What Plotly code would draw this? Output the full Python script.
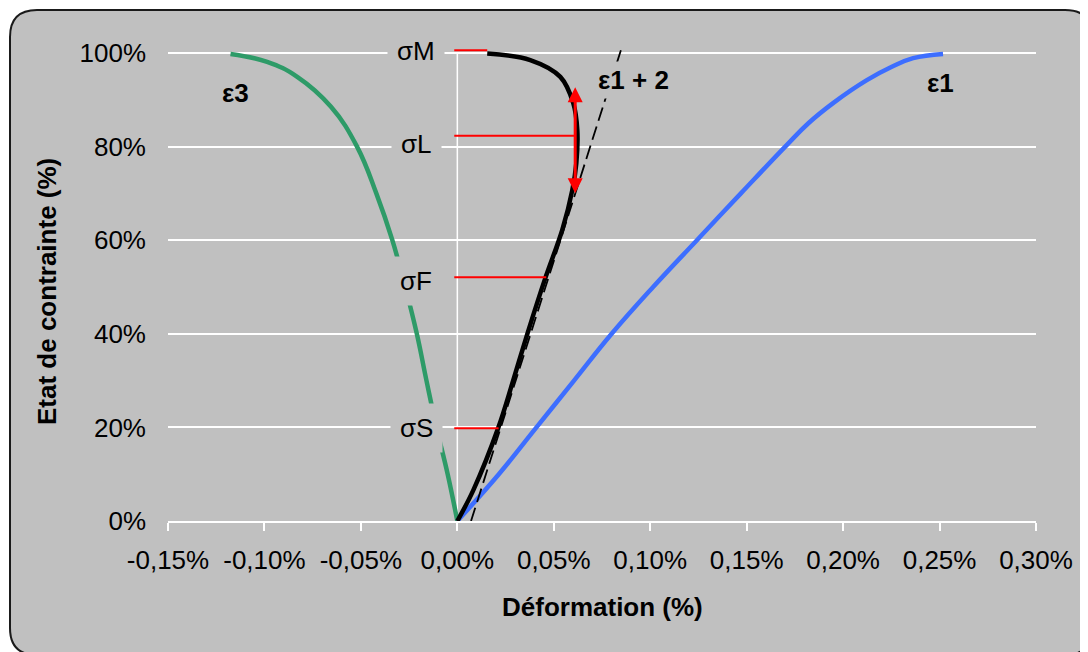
import plotly.graph_objects as go

# ---------------- data (strain in %, stress state in %) ----------------
eps3_x = [0, -0.0050, -0.0108, -0.0160, -0.0210, -0.0270, -0.0337, -0.0420, -0.0520,
          -0.0655, -0.0830, -0.0986, -0.1176]
eps3_y = [0, 10, 20, 30, 40, 50, 60, 70, 80, 88.5, 94.9, 98.1, 99.8]

eps1_x = [0, 0.0215, 0.0410, 0.0605, 0.0800, 0.1015, 0.1242, 0.1470, 0.1700, 0.1820,
          0.1948, 0.2123, 0.2250, 0.2363, 0.2518]
eps1_y = [0, 10, 20, 30, 40, 50, 60, 70, 80, 85, 89.3, 94.2, 97.0, 98.9, 99.8]

eps12_x = [0, 0.0083, 0.0212, 0.0290, 0.0363, 0.0456, 0.0544, 0.0596, 0.0617, 0.0622,
           0.0601, 0.0534, 0.0378, 0.0155]
eps12_y = [0, 6.6, 19.9, 30.1, 40.0, 51.9, 62.2, 70.7, 76.5, 83.5, 89.3, 94.9, 98.5, 99.9]

tangent_x = [0.0071, 0.0848]
tangent_y = [0, 100.6]

sigma_names = ["σM", "σL", "σF", "σS"]
sigma_levels = [100.6, 82.3, 52.1, 19.8]
sigma_ends = [0.0155, 0.0611, 0.0461, 0.0214]
sigma_start = -0.0016
sigma_label_y = [100.5, 80.6, 51.3, 19.9]
sigma_label_x = -0.0212

arrow_x = 0.0611
arrow_y = [69.7, 92.7]

curve_labels = ["ε3", "ε1", "ε1 + 2"]
curve_label_x = [-0.1151, 0.2504, 0.0913]
curve_label_y = [91.4, 93.5, 94.2]

x_ticks = [-0.15, -0.10, -0.05, 0.0, 0.05, 0.10, 0.15, 0.20, 0.25, 0.30]
x_ticktext = ["-0,15%", "-0,10%", "-0,05%", "0,00%", "0,05%", "0,10%", "0,15%", "0,20%", "0,25%", "0,30%"]
y_ticks = [0, 20, 40, 60, 80, 100]
y_ticktext = ["0%", "20%", "40%", "60%", "80%", "100%"]

# ---------------- layout geometry ----------------
OFF = 8                       # page body margin
W, H = 1080, 644
L, R, T, B = 160, 52, 38, 131
PW, PH = W - L - R, H - T - B
BG = "#C0C0C0"
FONT = "Arial, Liberation Sans, sans-serif"
FS = 26


def px2paper(px, py):
    fx, fy = px - OFF, py - OFF
    return (fx - L) / PW, (H - B - fy) / PH


fig = go.Figure()

fig.add_trace(go.Scatter(x=eps3_x, y=eps3_y, mode="lines",
                         line=dict(color="#2E9B68", width=4.5, shape="spline", smoothing=1.2),
                         showlegend=False, hoverinfo="skip"))
fig.add_trace(go.Scatter(x=eps1_x, y=eps1_y, mode="lines",
                         line=dict(color="#3D6EFF", width=4.5, shape="spline", smoothing=1.2),
                         showlegend=False, hoverinfo="skip"))
fig.add_trace(go.Scatter(x=eps12_x, y=eps12_y, mode="lines",
                         line=dict(color="#000000", width=4.5, shape="spline", smoothing=1.0),
                         showlegend=False, hoverinfo="skip"))
fig.add_trace(go.Scatter(x=tangent_x, y=tangent_y, mode="lines",
                         line=dict(color="#000000", width=1.8, dash="14px,6px"),
                         showlegend=False, hoverinfo="skip"))
for lvl, xe in zip(sigma_levels, sigma_ends):
    fig.add_trace(go.Scatter(x=[sigma_start, xe], y=[lvl, lvl], mode="lines", line=dict(color="#FF0000", width=2),
                             showlegend=False, hoverinfo="skip", cliponaxis=False))

# axis line at x = 0 (vertical)
fig.add_shape(type="line", xref="x", yref="y", x0=0, x1=0, y0=y_ticks[0], y1=y_ticks[-1],
              line=dict(color="white", width=1.5), layer="below")

# rounded outer frame
x0p, y0p = px2paper(10, 10)
x1p, y1p = px2paper(1092, 655)
rx, ry = 27 / PW, 27 / PH
path = (f"M {x0p+rx},{y0p} L {x1p-rx},{y0p} Q {x1p},{y0p} {x1p},{y0p-ry} "
        f"L {x1p},{y1p+ry} Q {x1p},{y1p} {x1p-rx},{y1p} L {x0p+rx},{y1p} "
        f"Q {x0p},{y1p} {x0p},{y1p+ry} L {x0p},{y0p-ry} Q {x0p},{y0p} {x0p+rx},{y0p} Z")
fig.add_shape(type="path", xref="paper", yref="paper", path=path, fillcolor=BG,
              line=dict(color="#1A1A1A", width=2), layer="below")

# sigma labels
for name, ly in zip(sigma_names, sigma_label_y):
    fig.add_annotation(x=sigma_label_x, y=ly, xref="x", yref="y", text=name, showarrow=False,
                       font=dict(family=FONT, size=FS, color="#000000"), bgcolor=BG, borderpad=9)

# curve labels
for name, lx, ly in zip(curve_labels, curve_label_x, curve_label_y):
    fig.add_annotation(x=lx, y=ly, xref="x", yref="y", text=f"<b>{name}</b>", showarrow=False,
                       font=dict(family=FONT, size=FS, color="#000000"), bgcolor=BG, borderpad=3)

# red double arrow
fig.add_annotation(x=arrow_x, y=arrow_y[1], ax=arrow_x, ay=arrow_y[0], xref="x", yref="y", axref="x", ayref="y",
                   text="", showarrow=True, arrowhead=2, arrowside="end+start", arrowsize=1,
                   arrowwidth=3, arrowcolor="#FF0000")

# axis titles
tx, ty = px2paper(602, 607)
fig.add_annotation(x=tx, y=ty, xref="paper", yref="paper", text="<b>Déformation (%)</b>", showarrow=False,
                   xanchor="center", yanchor="middle", font=dict(family=FONT, size=FS, color="#000000"))
tx, ty = px2paper(47, 292)
fig.add_annotation(x=tx, y=ty, xref="paper", yref="paper", text="<b>Etat de contrainte (%)</b>", showarrow=False,
                   xanchor="center", yanchor="middle", textangle=-90,
                   font=dict(family=FONT, size=FS, color="#000000"))

fig.update_layout(
    width=W, height=H,
    margin=dict(l=L, r=R, t=T, b=B),
    paper_bgcolor="white",
    plot_bgcolor="rgba(0,0,0,0)",
    font=dict(family=FONT, size=FS, color="#000000"),
    xaxis=dict(range=[-0.15, 0.30], tickvals=x_ticks, ticktext=x_ticktext, showgrid=False, zeroline=False,
               showline=True, linecolor="white", linewidth=1.5, ticks="outside", ticklen=8, tickcolor="white",
               tickwidth=1.5, ticklabelstandoff=7, tickfont=dict(family=FONT, size=FS, color="#000000")),
    yaxis=dict(range=[0, 101.5], tickvals=y_ticks, ticktext=y_ticktext, showgrid=True, gridcolor="white",
               gridwidth=1.5, zeroline=False, showline=False, ticks="", ticklabelstandoff=21,
               tickfont=dict(family=FONT, size=FS, color="#000000")),
)

fig.write_html("out.html")
